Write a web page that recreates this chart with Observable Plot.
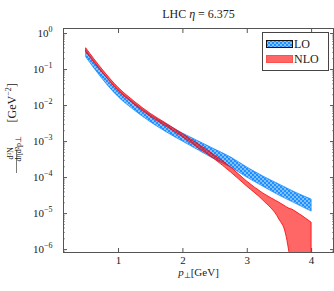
<!DOCTYPE html>
<html><head><meta charset="utf-8">
<script src="https://cdn.jsdelivr.net/npm/d3@7"></script>
<script src="https://cdn.jsdelivr.net/npm/@observablehq/plot@0.6"></script>
<style>body{margin:0;background:#fff}</style>
</head><body><div id="chart"></div>
<script>
const title = "LHC η = 6.375";
const xLabel = "p⊥ [GeV]";
const yUnit = "[GeV⁻²]";
const seriesNames = ["LO", "NLO"];

const pLO = [0.5, 0.75, 1.0, 1.25, 1.5, 1.75, 2.0, 2.25, 2.5, 2.75, 3.0, 3.25, 3.5, 3.75, 4.0];
const loHigh = [0.337, 0.0860, 0.0270, 0.0115, 0.00540, 0.00300, 0.00167, 0.00100, 0.000600, 0.000360, 0.000190, 0.000107, 6.4e-5, 3.83e-5, 2.45e-5];
const loLow  = [0.215, 0.0550, 0.0172, 0.00730, 0.00345, 0.00180, 0.00100, 0.000562, 0.000316, 0.000190, 0.000100, 5.6e-5, 3.16e-5, 1.9e-5, 1.14e-5];

const pNLO = [0.5, 0.75, 1.0, 1.25, 1.5, 1.75, 2.0, 2.25, 2.5, 2.75, 3.0, 3.25, 3.5, 3.6, 3.65, 3.7, 3.75, 4.0];
const nloHigh = [0.383, 0.100, 0.0310, 0.0128, 0.00590, 0.00310, 0.00160, 0.000825, 0.000408, 0.000190, 7.7e-5, 3.6e-5, 2.0e-5, 1.56e-5, 1.38e-5, 1.29e-5, 1.14e-5, 5.6e-6];
const nloLow  = [0.297, 0.0825, 0.0255, 0.0106, 0.00490, 0.00255, 0.00132, 0.000640, 0.000316, 0.000138, 5.6e-5, 2.3e-5, 6.8e-6, 2.8e-6, 9.4e-7, 1.9e-7, 1e-9, 1e-9];

const xTicks = [1, 2, 3, 4];
const yTicks = [1, 1e-1, 1e-2, 1e-3, 1e-4, 1e-5, 1e-6];
const yTickLabels = ["10⁰", "10⁻¹", "10⁻²", "10⁻³", "10⁻⁴", "10⁻⁵", "10⁻⁶"];
const yTickExp = ["0", "−1", "−2", "−3", "−4", "−5", "−6"];

const lo = pLO.map((p, i) => ({p, hi: loHigh[i], lo: loLow[i]}));
const nlo = pNLO.map((p, i) => ({p, hi: nloHigh[i], lo: nloLow[i]}));
const yMinor = [];
for (let e = -7; e <= 0; e++) for (let k = 2; k <= 9; k++) yMinor.push(k * Math.pow(10, e));
const yDomain = [Math.pow(10, -6.08), Math.pow(10, 0.14)];
const yMinorIn = yMinor.filter(v => v >= yDomain[0] && v <= yDomain[1]);

const font = "'Liberation Serif', serif";
const axisColor = "#555";
const loBlue = "#1e90ff";

const plot = Plot.plot({
  width: 334, height: 291,
  marginLeft: 63, marginRight: 1, marginTop: 28, marginBottom: 39,
  style: {fontFamily: font, fontSize: "11px", background: "white", color: "#222"},
  x: {domain: [0.145, 4.34]},
  y: {type: "log", domain: yDomain},
  marks: [
    Plot.areaY(lo, {x: "p", y1: "lo", y2: "hi", fill: "url(#lodots)", stroke: loBlue, strokeWidth: 0.8, curve: "monotone-x", clip: true}),
    Plot.areaY(nlo, {x: "p", y1: "lo", y2: "hi", fill: "#ff0000", fillOpacity: 0.6, stroke: "#ff0000", strokeWidth: 0.8, curve: "monotone-x", clip: true}),
    Plot.axisY(yMinorIn, {anchor: "left", tickSize: -2, text: null, label: null, stroke: "#999"}),
    Plot.axisY(yMinorIn, {anchor: "right", tickSize: -2, text: null, label: null, stroke: "#999"}),
    Plot.axisY(yTicks, {anchor: "left", tickSize: -4, tickPadding: 15, label: null, stroke: axisColor, fontSize: 11,
      tickFormat: d => yTickLabels[yTicks.indexOf(d)]}),
    Plot.axisY(yTicks, {anchor: "right", tickSize: -4, text: null, label: null, stroke: axisColor}),
    Plot.axisX(xTicks, {anchor: "bottom", tickSize: -4, tickPadding: 8, label: null, stroke: axisColor, fontSize: 11}),
    Plot.axisX(xTicks, {anchor: "top", tickSize: -4, text: null, label: null, stroke: axisColor}),
    Plot.frame({stroke: axisColor, strokeWidth: 1}),
    Plot.text([title], {frameAnchor: "top", dy: -19, fontSize: 12}),
    Plot.text([xLabel], {frameAnchor: "bottom", dy: 23, fontSize: 11}),
    Plot.text([yUnit], {frameAnchor: "left", dx: -51, dy: -18, rotate: -90, fontSize: 12}),
    Plot.text(["d³N"], {frameAnchor: "left", dx: -53, dy: 19, rotate: -90, fontSize: 8}),
    Plot.text(["dηd²p⊥"], {frameAnchor: "left", dx: -45.5, dy: 21, rotate: -90, fontSize: 8})
  ]
});

const svg = d3.select(plot);
const defs = svg.insert("defs", ":first-child");
const pat = defs.append("pattern").attr("id", "lodots").attr("patternUnits", "userSpaceOnUse")
  .attr("width", 4).attr("height", 4);
pat.append("rect").attr("width", 4).attr("height", 4).attr("fill", loBlue);
pat.append("circle").attr("cx", 1).attr("cy", 1).attr("r", 0.8).attr("fill", "white");
pat.append("circle").attr("cx", 3).attr("cy", 3).attr("r", 0.8).attr("fill", "white");

// typeset exponents, title and x label with tspans (still real text)
svg.selectAll("text").each(function () {
  const t = d3.select(this);
  const s = this.textContent;
  const i = yTickLabels.indexOf(s);
  if (i >= 0) {
    t.text(null);
    t.append("tspan").text("10");
    t.append("tspan").attr("dy", -5).attr("font-size", 8).text(yTickExp[i]);
  } else if (s === title) {
    t.text(null);
    t.append("tspan").text("LHC ");
    t.append("tspan").attr("font-style", "italic").text("η");
    t.append("tspan").text(" = 6.375");
  } else if (s === xLabel) {
    t.text(null);
    t.append("tspan").attr("font-style", "italic").text("p");
    t.append("tspan").attr("dy", 2).attr("font-size", 8).text("⊥");
    t.append("tspan").attr("dy", -2).text("[GeV]");
  } else if (s === yUnit) {
    t.text(null);
    t.append("tspan").text("[GeV");
    t.append("tspan").attr("dy", -5).attr("font-size", 8).text("−2");
    t.append("tspan").attr("dy", 5).text("]");
  }
});

// fraction bar of the y label
svg.append("line").attr("x1", 16.5).attr("x2", 16.5).attr("y1", 150).attr("y2", 173)
  .attr("stroke", "#222").attr("stroke-width", 0.6);

// legend
const lg = svg.append("g").attr("font-family", font).attr("font-size", 12).attr("fill", "#222")
  .attr("text-anchor", "start");
lg.append("rect").attr("x", 262.5).attr("y", 32.5).attr("width", 66).attr("height", 38)
  .attr("fill", "white").attr("stroke", "#444");
lg.append("rect").attr("x", 266.5).attr("y", 40.5).attr("width", 26).attr("height", 7)
  .attr("fill", "url(#lodots)").attr("stroke", "#111");
lg.append("text").attr("x", 294).attr("y", 48).text(seriesNames[0]);
lg.append("rect").attr("x", 266.5).attr("y", 55.5).attr("width", 26).attr("height", 7)
  .attr("fill", "#ff6666").attr("stroke", "#ff5050");
lg.append("text").attr("x", 294).attr("y", 63).text(seriesNames[1]);

document.getElementById("chart").appendChild(plot);
</script>
</body></html>
